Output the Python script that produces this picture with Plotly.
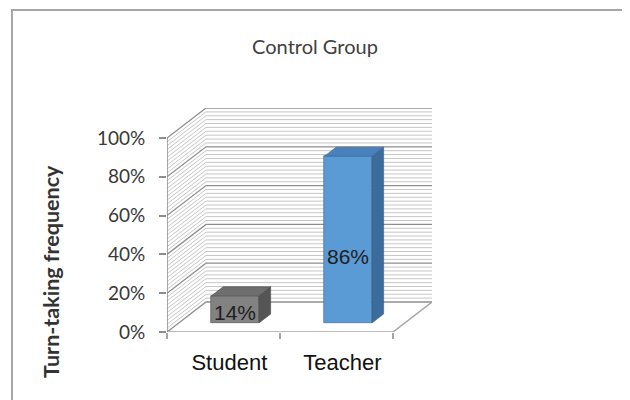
import plotly.graph_objects as go

# ---- data ----
categories = ["Student", "Teacher"]
values = [14, 86]
label_texts = ["14%", "86%"]
y_tick_vals = [0, 20, 40, 60, 80, 100]
y_tick_text = ["0%", "20%", "40%", "60%", "80%", "100%"]
minor_grid_step = 2

# ---- 3D styling constants ----
DX = 0.345      # depth offset in category units
DY = 15.46      # depth offset in percent units
F0, F1 = 0.30, 0.60   # bar front / back depth fraction
BAR_W = 0.42
front_cols = ["#828282", "#5b9bd5"]
side_cols = ["#555555", "#3b6c9c"]
top_cols = ["#6e6e6e", "#4a80bb"]
edge_cols = ["#4a4a4a", "#35618c"]

XMIN, XMAX = -0.5, len(categories) - 0.5
YMAX = 100

fig = go.Figure()

# gridlines on side wall and back wall (drawn beneath the bars)
for v in range(0, YMAX + 1, minor_grid_step):
    major = v in y_tick_vals
    fig.add_shape(type="path", xref="x", yref="y", layer="below",
                  path=f"M {XMIN},{v} L {XMIN + DX},{v + DY} L {XMAX + DX},{v + DY}",
                  line=dict(color="#8e8e8e" if major else "#c6c6c6", width=1.3 if major else 1))

# floor edges
fig.add_shape(type="path", xref="x", yref="y", layer="below",
              path=f"M {XMIN},0 L {XMAX},0 L {XMAX + DX},{DY}",
              line=dict(color="#a6a6a6", width=1.5))
# y axis line (front)
fig.add_shape(type="line", xref="x", yref="y", layer="below",
              x0=XMIN, x1=XMIN, y0=0, y1=YMAX, line=dict(color="#8c8c8c", width=1.5))

# bar side and top faces
bdx = (F1 - F0) * DX
bdy = (F1 - F0) * DY
for i, v in enumerate(values):
    xc = i + F0 * DX
    b = F0 * DY
    xl, xr = xc - BAR_W / 2, xc + BAR_W / 2
    fig.add_trace(go.Scatter(
        x=[xr, xr + bdx, xr + bdx, xr, xr], y=[b, b + bdy, b + bdy + v, b + v, b],
        fill="toself", fillcolor=side_cols[i], mode="lines", hoverinfo="skip",
        showlegend=False, line=dict(color=edge_cols[i], width=0.6)))
    fig.add_trace(go.Scatter(
        x=[xl, xl + bdx, xr + bdx, xr, xl], y=[b + v, b + v + bdy, b + v + bdy, b + v, b + v],
        fill="toself", fillcolor=top_cols[i], mode="lines", hoverinfo="skip",
        showlegend=False, line=dict(color=edge_cols[i], width=0.6)))

# front faces
fig.add_trace(go.Bar(
    x=[i + F0 * DX for i in range(len(categories))], y=values,
    base=[F0 * DY] * len(values), width=BAR_W,
    marker=dict(color=front_cols, line=dict(color=edge_cols, width=0.6)),
    showlegend=False, hoverinfo="skip"))

# data labels
for i, v in enumerate(values):
    fig.add_annotation(x=i + F0 * DX, y=F0 * DY + v * 0.4, text=label_texts[i],
                       showarrow=False, xref="x", yref="y",
                       font=dict(family="Liberation Sans, Arial", size=21, color="#1e1e1e"))

# axis title
fig.add_annotation(x=-0.44, y=0.27, xref="paper", yref="paper", text="<b>Turn-taking frequency</b>",
                   textangle=-90, showarrow=False, xanchor="center", yanchor="middle",
                   font=dict(family="Lato", size=21.5, color="#333333"))

# outer frame
fig.add_shape(type="rect", xref="paper", yref="paper", x0=-0.585, x1=1.740, y0=-0.40, y1=1.4375,
              line=dict(color="#a6a6a6", width=2), fillcolor="rgba(0,0,0,0)", layer="below")

fig.update_layout(
    width=630, height=400,
    margin=dict(l=159, r=206, t=100, b=76, autoexpand=False),
    paper_bgcolor="white", plot_bgcolor="white",
    title=dict(text="Control Group", x=0.5 - 8 / 630, xref="container", y=1 - 39 / 400, yref="container",
               xanchor="center", yanchor="middle",
               font=dict(family="Lato", size=20, color="#404040")),
    bargap=0,
    xaxis=dict(range=[XMIN, XMAX + DX], tickvals=[i + F0 * DX / 2 for i in range(len(categories))],
               ticktext=categories,
               ticks="", showgrid=False, zeroline=False, showline=False,
               tickfont=dict(family="Liberation Sans, Arial", size=22, color="#111111"),
               ticklabelstandoff=15,
               minor=dict(tickvals=[i - 0.5 for i in range(len(categories) + 1)], ticks="outside",
                          ticklen=6, tickcolor="#a6a6a6", tickwidth=1.5, showgrid=False)),
    yaxis=dict(range=[0, YMAX + DY], tickvals=y_tick_vals, ticktext=y_tick_text,
               ticks="outside", ticklen=7, tickcolor="#8c8c8c", tickwidth=1.5,
               showgrid=False, zeroline=False, showline=False, ticklabelstandoff=10,
               tickfont=dict(family="Lato", size=19, color="#383838")),
)

fig.write_html("out.html")
